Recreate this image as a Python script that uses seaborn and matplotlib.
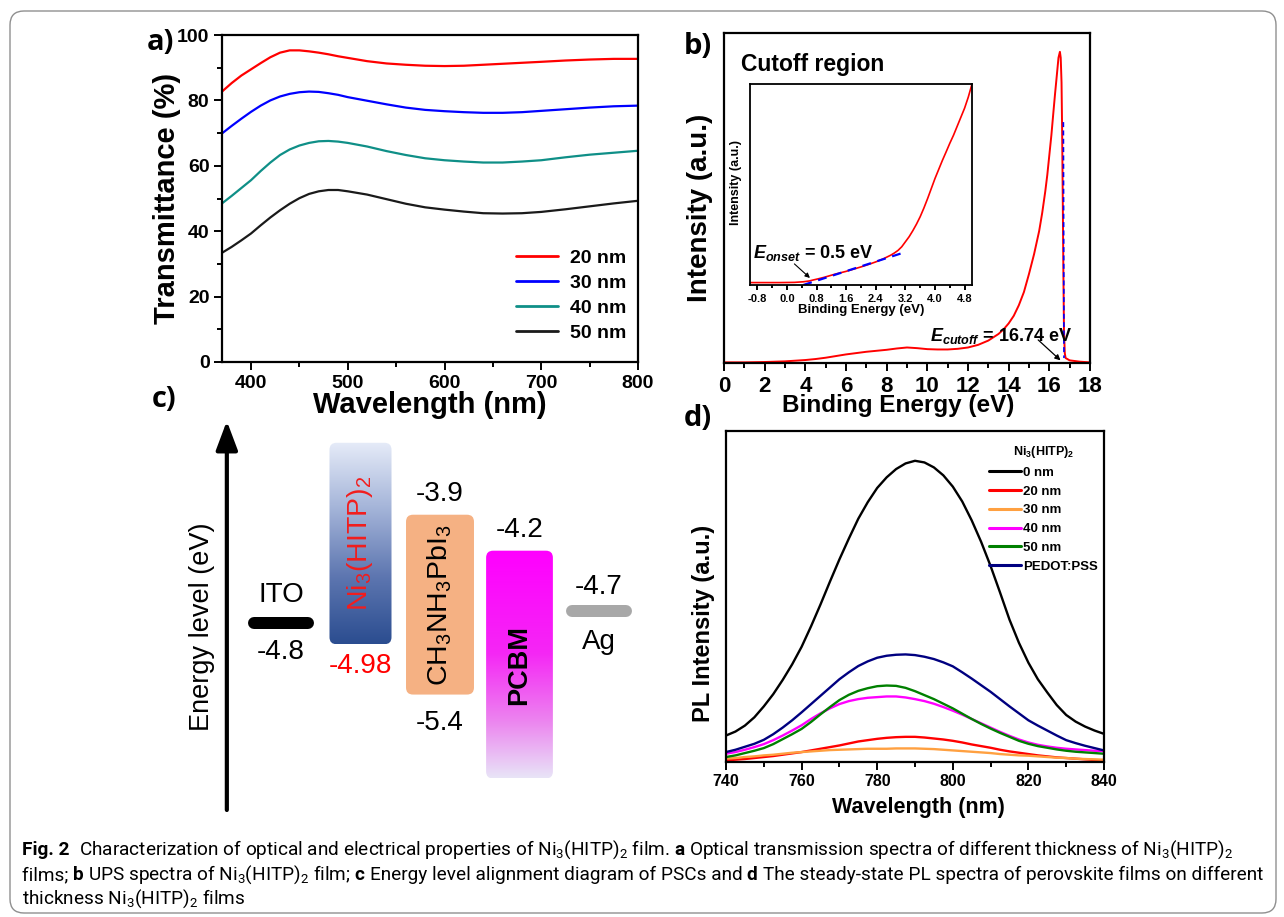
import numpy as np
import pandas as pd
import matplotlib
matplotlib.use("Agg")
import matplotlib.pyplot as plt
import seaborn as sns
from matplotlib.lines import Line2D
from matplotlib.patches import FancyBboxPatch
from matplotlib.colors import LinearSegmentedColormap
from matplotlib.ticker import MultipleLocator, FormatStrFormatter
from matplotlib.transforms import IdentityTransform

# ---------------- (a) transmittance spectra ----------------
wl_a = [370, 380, 390, 400, 410, 420, 430, 440, 450, 460, 470, 480, 490, 500, 520, 540, 560, 580,
        600, 620, 640, 660, 680, 700, 725, 750, 775, 800]
T_20nm = [82.7, 85.3, 87.6, 89.5, 91.4, 93.2, 94.6, 95.3, 95.3, 95.0, 94.6, 94.1, 93.5, 93.0, 92.0, 91.3,
          90.9, 90.6, 90.5, 90.6, 90.9, 91.2, 91.5, 91.8, 92.2, 92.5, 92.7, 92.7]
T_30nm = [69.9, 72.2, 74.4, 76.5, 78.4, 80.0, 81.2, 82.0, 82.5, 82.7, 82.6, 82.2, 81.7, 81.0, 79.9, 78.8,
          77.8, 77.1, 76.7, 76.4, 76.2, 76.2, 76.4, 76.8, 77.3, 77.8, 78.2, 78.4]
T_40nm = [48.5, 50.8, 53.2, 55.6, 58.4, 61.0, 63.3, 65.0, 66.2, 67.0, 67.5, 67.6, 67.4, 67.0, 65.9, 64.5,
          63.3, 62.3, 61.7, 61.3, 61.0, 61.0, 61.3, 61.7, 62.6, 63.4, 64.0, 64.6]
T_50nm = [33.4, 35.2, 37.2, 39.3, 41.8, 44.2, 46.4, 48.4, 50.1, 51.4, 52.2, 52.6, 52.6, 52.2, 51.2, 49.8,
          48.4, 47.3, 46.6, 46.0, 45.5, 45.4, 45.5, 45.9, 46.7, 47.6, 48.5, 49.3]
films_a = ["20 nm", "30 nm", "40 nm", "50 nm"]
colors_a = ["#ff0000", "#0000ff", "#0f8f87", "#1a1a1a"]

# ---------------- (b) UPS spectrum ----------------
be_b = [0, 1, 2, 3, 3.5, 4, 4.5, 5, 5.5, 6, 6.5, 7, 7.5, 8, 8.5, 9, 9.5, 10, 10.5, 11, 11.5, 12, 12.5,
        13, 13.5, 13.75, 14, 14.25, 14.5, 14.75, 15, 15.25, 15.5, 15.65, 15.8, 15.9, 16.0, 16.1, 16.2,
        16.28, 16.35, 16.45, 16.52, 16.56, 16.6, 16.63, 16.66, 16.69, 16.72, 16.76, 16.8, 17, 17.5, 18]
ups_b = [0.002, 0.002, 0.003, 0.005, 0.007, 0.009, 0.012, 0.016, 0.021, 0.026, 0.030, 0.034, 0.037, 0.040,
         0.044, 0.047, 0.045, 0.042, 0.041, 0.041, 0.043, 0.047, 0.055, 0.068, 0.088, 0.102, 0.12, 0.143,
         0.175, 0.215, 0.27, 0.33, 0.40, 0.455, 0.52, 0.57, 0.63, 0.69, 0.76, 0.815, 0.86, 0.925, 0.943,
         0.925, 0.85, 0.70, 0.50, 0.28, 0.10, 0.03, 0.015, 0.008, 0.004, 0.002]
be_inset = [-1.0, -0.6, -0.2, 0.2, 0.44, 0.6, 0.71, 0.85, 1.0, 1.15, 1.3, 1.45, 1.6, 1.8, 2.0, 2.2, 2.4,
            2.6, 2.8, 2.9, 3.0, 3.1, 3.2, 3.3, 3.4, 3.5, 3.6, 3.7, 3.8, 3.9, 4.0, 4.1, 4.2, 4.3, 4.4,
            4.5, 4.6, 4.7, 4.8, 4.9, 5.0]
ups_inset = [0.012, 0.012, 0.012, 0.013, 0.016, 0.020, 0.025, 0.031, 0.038, 0.046, 0.054, 0.061, 0.068,
             0.079, 0.090, 0.102, 0.115, 0.130, 0.148, 0.159, 0.172, 0.19, 0.215, 0.24, 0.27, 0.303,
             0.34, 0.383, 0.43, 0.48, 0.53, 0.575, 0.62, 0.662, 0.705, 0.745, 0.79, 0.835, 0.88, 0.935, 1.0]
onset_fit_x = [0.44, 3.15]
onset_fit_y = [0.0, 0.161]
cutoff_fit_x = [16.69, 16.72]
cutoff_fit_y = [0.73, 0.015]
E_onset = 0.5
E_cutoff = 16.74

# ---------------- (c) energy levels ----------------
layers = ["ITO", "Ni3(HITP)2", "CH3NH3PbI3", "PCBM", "Ag"]
e_top = [-4.8, -3.3, -3.9, -4.2, -4.7]
e_bottom = [-4.8, -4.98, -5.4, -6.1, -4.7]

# ---------------- (d) PL spectra ----------------
wl_d = [740, 742.5, 745, 747.5, 750, 752.5, 755, 757.5, 760, 762.5, 765, 767.5, 770, 772.5, 775, 777.5,
        780, 782.5, 785, 787.5, 790, 792.5, 795, 797.5, 800, 802.5, 805, 807.5, 810, 812.5, 815, 817.5,
        820, 822.5, 825, 827.5, 830, 832.5, 835, 837.5, 840]
pl_0nm = [0.080, 0.092, 0.110, 0.135, 0.168, 0.205, 0.248, 0.295, 0.348, 0.410, 0.476, 0.545, 0.612,
          0.675, 0.735, 0.785, 0.828, 0.860, 0.885, 0.902, 0.910, 0.905, 0.890, 0.866, 0.832, 0.787,
          0.730, 0.665, 0.592, 0.512, 0.430, 0.360, 0.300, 0.250, 0.210, 0.172, 0.142, 0.122, 0.107,
          0.095, 0.085]
pl_20nm = [0.005, 0.007, 0.009, 0.012, 0.015, 0.018, 0.022, 0.026, 0.030, 0.035, 0.040, 0.045, 0.050,
           0.056, 0.062, 0.066, 0.070, 0.073, 0.075, 0.076, 0.076, 0.074, 0.071, 0.068, 0.064, 0.059,
           0.053, 0.048, 0.043, 0.037, 0.032, 0.028, 0.024, 0.020, 0.017, 0.014, 0.012, 0.010, 0.008,
           0.006, 0.005]
pl_30nm = [0.010, 0.012, 0.015, 0.017, 0.020, 0.022, 0.025, 0.028, 0.030, 0.032, 0.034, 0.036, 0.037,
           0.038, 0.039, 0.040, 0.040, 0.040, 0.041, 0.041, 0.041, 0.040, 0.039, 0.037, 0.035, 0.033,
           0.031, 0.029, 0.027, 0.024, 0.022, 0.020, 0.019, 0.017, 0.015, 0.013, 0.012, 0.010, 0.009,
           0.008, 0.007]
pl_40nm = [0.025, 0.030, 0.037, 0.045, 0.054, 0.066, 0.080, 0.095, 0.111, 0.130, 0.147, 0.162, 0.175,
           0.184, 0.190, 0.194, 0.196, 0.198, 0.198, 0.195, 0.190, 0.184, 0.176, 0.166, 0.155, 0.143,
           0.130, 0.117, 0.104, 0.091, 0.079, 0.068, 0.059, 0.052, 0.047, 0.043, 0.040, 0.038, 0.036,
           0.034, 0.033]
pl_50nm = [0.015, 0.020, 0.027, 0.034, 0.042, 0.054, 0.069, 0.084, 0.100, 0.121, 0.144, 0.166, 0.187,
           0.203, 0.215, 0.223, 0.229, 0.231, 0.230, 0.224, 0.214, 0.202, 0.190, 0.176, 0.162, 0.146,
           0.130, 0.115, 0.101, 0.088, 0.076, 0.064, 0.055, 0.048, 0.043, 0.038, 0.034, 0.031, 0.029,
           0.027, 0.025]
pl_pedot = [0.030, 0.037, 0.046, 0.055, 0.067, 0.084, 0.104, 0.126, 0.150, 0.175, 0.200, 0.225, 0.250,
            0.271, 0.290, 0.304, 0.315, 0.321, 0.324, 0.325, 0.323, 0.318, 0.311, 0.301, 0.289, 0.271,
            0.252, 0.232, 0.212, 0.190, 0.168, 0.147, 0.126, 0.110, 0.095, 0.080, 0.066, 0.057, 0.049,
            0.042, 0.035]
samples_d = ["0 nm", "20 nm", "30 nm", "40 nm", "50 nm", "PEDOT:PSS"]
colors_d = ["#000000", "#ff0000", "#ffa040", "#ff00ff", "#008000", "#000080"]

# ---------------- style ----------------
sns.set_style("ticks")
plt.rcParams.update({
    "font.family": ["Liberation Sans", "DejaVu Sans"],
    "font.weight": "bold",
    "axes.labelweight": "bold",
    "axes.edgecolor": "black",
    "axes.linewidth": 1.6,
    "text.color": "black",
    "axes.labelcolor": "black",
    "xtick.color": "black",
    "ytick.color": "black",
    "lines.solid_joinstyle": "round",
    "mathtext.fontset": "custom",
    "mathtext.rm": "Liberation Sans:bold",
    "mathtext.it": "Liberation Sans:italic:bold",
    "mathtext.bf": "Liberation Sans:bold",
})

W, H = 1284, 917
fig = plt.figure(figsize=(W / 100, H / 100), dpi=100)
fig.patch.set_facecolor("white")


def px_axes(l, t, r, b):
    return fig.add_axes([l / W, 1 - b / H, (r - l) / W, (b - t) / H])


def style_ticks(ax, size, major=6, minor=3.5):
    ax.tick_params(which="both", direction="out", top=False, right=False, width=1.4, labelsize=size, pad=3)
    ax.tick_params(which="major", length=major)
    ax.tick_params(which="minor", length=minor)
    for s in ax.spines.values():
        s.set_visible(True)
        s.set_linewidth(1.6)


# ---------------- panel a ----------------
ax_a = px_axes(222, 35, 638, 362)
df_a = pd.DataFrame({
    "wl": wl_a * 4,
    "T": T_20nm + T_30nm + T_40nm + T_50nm,
    "film": [f for f in films_a for _ in wl_a],
})
sns.lineplot(data=df_a, x="wl", y="T", hue="film", hue_order=films_a,
             palette=dict(zip(films_a, colors_a)), linewidth=1.6, ax=ax_a, legend=False)
ax_a.set_xlim(370, 800)
ax_a.set_ylim(0, 100)
ax_a.xaxis.set_major_locator(MultipleLocator(100))
ax_a.xaxis.set_minor_locator(MultipleLocator(50))
ax_a.yaxis.set_major_locator(MultipleLocator(20))
ax_a.yaxis.set_minor_locator(MultipleLocator(10))
style_ticks(ax_a, 14)
ax_a.set_xlabel("Wavelength (nm)", fontsize=21)
ax_a.set_ylabel("Transmittance (%)", fontsize=21)
ax_a.xaxis.set_label_coords(0.5, -0.09)
ax_a.yaxis.set_label_coords(-0.098, 0.5)
h_a = [Line2D([], [], color=c, lw=2.0) for c in colors_a]
ax_a.legend(h_a, films_a, loc="center right", bbox_to_anchor=(1.0, 0.202), frameon=False,
            fontsize=14, handlelength=2.2, handletextpad=0.6, labelspacing=0.38, borderpad=0.1)

# ---------------- panel b ----------------
ax_b = px_axes(724, 33, 1090, 363)
df_b = pd.DataFrame({"be": be_b, "I": ups_b})
sns.lineplot(data=df_b, x="be", y="I", color="#ff0000", linewidth=1.4, ax=ax_b)
sns.lineplot(x=cutoff_fit_x, y=cutoff_fit_y, color="#0000ff", linewidth=1.2, linestyle=(0, (3, 2)),
             sort=False, ax=ax_b)
ax_b.set_xlim(0, 18)
ax_b.set_ylim(0, 1)
ax_b.set_yticks([])
ax_b.xaxis.set_major_locator(MultipleLocator(2))
ax_b.xaxis.set_minor_locator(MultipleLocator(1))
style_ticks(ax_b, 16)
ax_b.set_xlabel("Binding Energy (eV)", fontsize=17.5)
ax_b.set_ylabel("Intensity (a.u.)", fontsize=20)
ax_b.xaxis.set_label_coords(0.475, -0.095)
ax_b.yaxis.set_label_coords(-0.03, 0.47)
ax_b.text(0.047, 0.905, "Cutoff region", transform=ax_b.transAxes, fontsize=16.5, ha="left", va="center")
ax_b.text(10.12, 0.066, r"$E_{cutoff}$ = %.2f eV" % E_cutoff, fontsize=13, ha="left", va="baseline")
ax_b.annotate("", xy=(16.55, 0.008), xytext=(15.45, 0.07),
              arrowprops=dict(arrowstyle="-|>", color="black", lw=0.9, mutation_scale=8, shrinkA=0, shrinkB=0))

# inset
ax_in = px_axes(750, 84, 972, 285)
df_in = pd.DataFrame({"be": be_inset, "I": ups_inset})
sns.lineplot(data=df_in, x="be", y="I", color="#ff0000", linewidth=1.2, ax=ax_in)
sns.lineplot(x=onset_fit_x, y=onset_fit_y, color="#0000ff", linewidth=1.6, linestyle=(0, (4, 3)),
             sort=False, ax=ax_in)
ax_in.set_xlim(-1.0, 5.0)
ax_in.set_ylim(0, 1)
ax_in.set_yticks([])
ax_in.set_xticks([-0.8, 0.0, 0.8, 1.6, 2.4, 3.2, 4.0, 4.8])
ax_in.xaxis.set_major_formatter(FormatStrFormatter("%.1f"))
ax_in.xaxis.set_minor_locator(MultipleLocator(0.4))
style_ticks(ax_in, 8, major=3.5, minor=2)
for s in ax_in.spines.values():
    s.set_linewidth(1.3)
ax_in.set_xlabel("Binding Energy (eV)", fontsize=9.5)
ax_in.set_ylabel("Intensity (a.u.)", fontsize=9)
ax_in.xaxis.set_label_coords(0.5, -0.095)
ax_in.yaxis.set_label_coords(-0.035, 0.51)
ax_in.text(-0.93, 0.133, r"$E_{onset}$ = %.1f eV" % E_onset, fontsize=13, ha="left", va="baseline")
ax_in.annotate("", xy=(0.62, 0.035), xytext=(0.2, 0.105),
               arrowprops=dict(arrowstyle="-|>", color="black", lw=0.8, mutation_scale=7, shrinkA=0, shrinkB=0))

# ---------------- panel c ----------------
ax_c = px_axes(170, 415, 660, 815)
ax_c.set_axis_off()
DX, X0 = 79.5, 281.0
SY, Y0, E0 = 119.9, 606.2, -4.663
xl = ((170 - X0) / DX, (660 - X0) / DX)
yl = (E0 - (815 - Y0) / SY, E0 + (Y0 - 415) / SY)
reg = dict(family=["Liberation Sans", "DejaVu Sans"], weight="normal")

cap = 6 / DX
bar_colors = {0: "black", 4: "#a8a8a8"}
for i, col in bar_colors.items():
    w = 0.84
    ax_c.plot([i - w / 2 + cap, i + w / 2 - cap], [e_top[i], e_top[i]], color=col, lw=12 * 0.72,
              solid_capstyle="round")

cm_ni = LinearSegmentedColormap.from_list("ni", ["#e6ebf8", "#a3b3d8", "#5d76b0", "#2b4d90"])
cm_pc = LinearSegmentedColormap.from_list(
    "pc", [(0.0, "#ff00ff"), (0.45, "#f526f5"), (0.75, "#ec84ef"), (1.0, "#e8e4f7")])
box_w = {1: 0.78, 2: 0.855, 3: 0.84}
fills = {1: cm_ni, 2: "#f5b183", 3: cm_pc}
grad = np.linspace(0, 1, 256).reshape(-1, 1)
for i in (1, 2, 3):
    w = box_w[i]
    patch = FancyBboxPatch((i - w / 2, e_bottom[i]), w, e_top[i] - e_bottom[i],
                           boxstyle="round,pad=0,rounding_size=%f" % (7 / DX),
                           mutation_aspect=DX / SY, linewidth=0,
                           facecolor=fills[i] if isinstance(fills[i], str) else "none",
                           edgecolor="none")
    ax_c.add_patch(patch)
    if not isinstance(fills[i], str):
        im = ax_c.imshow(grad, cmap=fills[i], aspect="auto", origin="upper", interpolation="bilinear",
                         extent=[i - w / 2, i + w / 2, e_bottom[i], e_top[i]])
        im.set_clip_path(patch)
ax_c.set_xlim(*xl)
ax_c.set_ylim(*yl)

box_text = {
    1: (r"Ni$_\mathregular{3}$(HITP)$_\mathregular{2}$", "#f21d1d", "normal", 20.5),
    2: (r"CH$_\mathregular{3}$NH$_\mathregular{3}$PbI$_\mathregular{3}$", "black", "normal", 20.5),
    3: ("PCBM", "black", "bold", 19.5),
}
for i, (s, col, wt, fs) in box_text.items():
    ax_c.text(i, (e_top[i] + e_bottom[i]) / 2, s, rotation=90, ha="center", va="center", color=col,
              fontsize=fs, family=["Liberation Sans", "DejaVu Sans"], weight=wt)


def clabel(i, e, s, dy, color="black"):
    ax_c.annotate(s, xy=(i, e), xytext=(0, dy), textcoords="offset pixels", ha="center", va="center",
                  fontsize=20, color=color, **reg)


clabel(0, e_top[0], layers[0], 28)
clabel(0, e_top[0], str(e_top[0]), -29)
clabel(1, e_bottom[1], str(e_bottom[1]), -22, color="#ff0000")
clabel(2, e_top[2], str(e_top[2]), 21)
clabel(2, e_bottom[2], str(e_bottom[2]), -28)
clabel(3, e_top[3], str(e_top[3]), 21)
clabel(4, e_top[4], str(e_top[4]), 24)
clabel(4, e_top[4], layers[4], -31)

ax_c.annotate("", xy=(0.116, 0.985), xytext=(0.116, 0.0125), xycoords="axes fraction",
              arrowprops=dict(arrowstyle="-|>,head_length=0.8,head_width=0.3", lw=3, color="black",
                              mutation_scale=22, shrinkA=0, shrinkB=0))
ax_c.text(0.065, 0.47, "Energy level (eV)", transform=ax_c.transAxes, rotation=90, ha="center",
          va="center", fontsize=19.5, **reg)

# ---------------- panel d ----------------
ax_d = px_axes(726, 431, 1104, 762)
df_d = pd.DataFrame({
    "wl": wl_d * 6,
    "PL": pl_0nm + pl_20nm + pl_30nm + pl_40nm + pl_50nm + pl_pedot,
    "sample": [s for s in samples_d for _ in wl_d],
})
sns.lineplot(data=df_d, x="wl", y="PL", hue="sample", hue_order=samples_d,
             palette=dict(zip(samples_d, colors_d)), linewidth=1.7, ax=ax_d, legend=False)
ax_d.set_xlim(740, 840)
ax_d.set_ylim(0, 1)
ax_d.set_yticks([])
ax_d.xaxis.set_major_locator(MultipleLocator(20))
ax_d.xaxis.set_minor_locator(MultipleLocator(10))
style_ticks(ax_d, 11.5, major=5.5, minor=3.5)
ax_d.set_xlabel("Wavelength (nm)", fontsize=15.5)
ax_d.set_ylabel("PL Intensity (a.u.)", fontsize=17)
ax_d.xaxis.set_label_coords(0.51, -0.105)
ax_d.yaxis.set_label_coords(-0.03, 0.42)
h_d = [Line2D([], [], color=c, lw=2.2) for c in colors_d]
leg_d = ax_d.legend(h_d, samples_d, title=r"Ni$_3$(HITP)$_2$", loc="upper right",
                    bbox_to_anchor=(1.005, 0.985), frameon=False, fontsize=9.5, title_fontsize=9,
                    handlelength=2.4, handletextpad=0.2, labelspacing=0.5, borderpad=0.1)
leg_d.get_title().set_fontweight("bold")

# ---------------- panel letters ----------------
lab = dict(fontsize=21, weight="bold", family=["Open Sans", "Liberation Sans", "DejaVu Sans"],
           ha="center", va="center")
fig.text(160 / W, 1 - 43 / H, "a)", **lab)
fig.text(698 / W, 1 - 46 / H, "b)", **lab)
fig.text(164 / W, 1 - 400 / H, "c)", **lab)
fig.text(698 / W, 1 - 419 / H, "d)", **lab)

# ---------------- caption ----------------
renderer = fig.canvas.get_renderer()
cap_family = ["Roboto", "DejaVu Sans"]
NI = r"Ni$_\mathregular{3}$(HITP)$_\mathregular{2}$"
cap_lines = [
    [("Fig. 2  ", "bold"),
     ("Characterization of optical and electrical properties of " + NI + " film. ", "normal"),
     ("a ", "bold"),
     ("Optical transmission spectra of different thickness of " + NI, "normal")],
    [("films; ", "normal"), ("b ", "bold"), ("UPS spectra of " + NI + " film; ", "normal"),
     ("c ", "bold"), ("Energy level alignment diagram of PSCs and ", "normal"), ("d ", "bold"),
     ("The steady-state PL spectra of perovskite films on different", "normal")],
    [("thickness " + NI + " films", "normal")],
]


def piece_width(s, size, weight):
    t1 = fig.text(0, 0, "|" + s + "|", fontsize=size, weight=weight, family=cap_family)
    t2 = fig.text(0, 0, "||", fontsize=size, weight=weight, family=cap_family)
    w = t1.get_window_extent(renderer).width - t2.get_window_extent(renderer).width
    t1.remove()
    t2.remove()
    return w


w10 = sum(piece_width(s, 10, wt) for s, wt in cap_lines[0])
cap_size = 10 * (1213 / w10)
for line, yb in zip(cap_lines, [855, 880, 904]):
    x = 22
    for s, wt in line:
        fig.text(x / W, 1 - yb / H, s, fontsize=cap_size, weight=wt, family=cap_family,
                 ha="left", va="baseline")
        x += piece_width(s, cap_size, wt)

# ---------------- outer rounded frame ----------------
frame = FancyBboxPatch((10, H - 913), 1266, 902, boxstyle="round,pad=0,rounding_size=14",
                       transform=IdentityTransform(), fill=False, edgecolor="#8f8f8f", linewidth=1.0)
fig.add_artist(frame)

fig.savefig("out.png", dpi=100)
